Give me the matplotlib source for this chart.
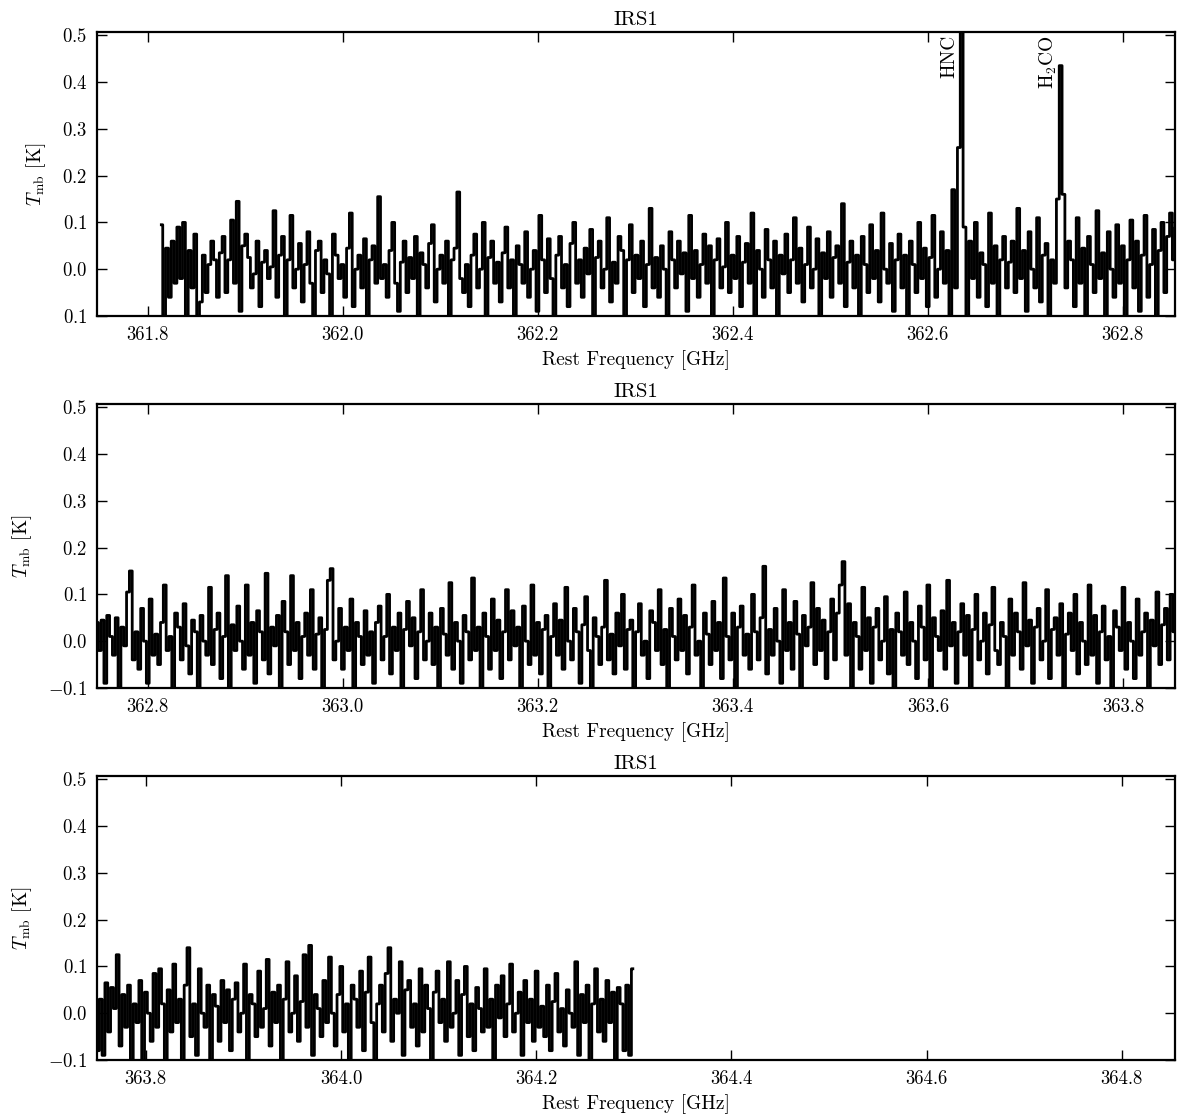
import numpy as np
import matplotlib
matplotlib.use("Agg")
import matplotlib.pyplot as plt
from matplotlib.ticker import FuncFormatter

plt.rcParams['font.family'] = 'cmr10'
plt.rcParams['mathtext.fontset'] = 'cm'
plt.rcParams['axes.unicode_minus'] = False

# channel grid of each spectrum (GHz)
f1_start, f2_start, f3_start = 361.814, 362.745, 363.748
chan_width = 0.0029

# main-beam temperature per channel, in mK
tmb1_mK = [
    95, -110, 45, -60, 60, -30, 90, -20, 100, -120, 40, -40, 75, -130, -70, 30, -50, 10, 60, 20,
    -60, 35, 70, -50, 20, 105, -30, 145, -90, 50, 75, 25, -40, -10, 60, -80, 15, 40, -20, 5,
    125, -60, 30, 70, -100, 20, 115, -40, 0, 55, -70, 10, 80, -30, -120, 40, 60, -50, 20, -10,
    -130, 75, 30, -20, 10, -60, 45, 120, -80, 0, 30, -40, 65, -110, 20, 50, -30, 155, -20, 10,
    -60, 40, 100, -30, -90, 15, 60, -50, 25, -20, 70, -100, 35, 10, -40, 55, 95, -70, 0, 30,
    -30, 60, -110, 20, 45, 165, -20, -50, 10, -80, 30, 75, -40, 0, 100, -130, 25, 60, -30, 15,
    -70, 35, 90, -40, 20, -100, 50, 10, -30, 80, -60, 0, 40, -90, 115, 20, -50, 65, -20, -120,
    30, 70, -40, 10, -80, 55, 100, -30, 20, -60, 45, -10, 85, -100, 25, 60, -40, 0, 110, -70,
    15, -30, 70, 40, -120, 20, 95, -50, 30, -20, 60, -80, 10, 130, -40, 25, -60, 50, 0, -100,
    80, 20, -40, 60, -10, 35, -90, 115, -20, 40, -60, 10, 75, -30, 50, -110, 20, 65, -40, 5,
    100, -50, 30, -20, 70, -80, 15, 55, -30, 120, -100, 40, 0, -60, 85, 20, -40, 60, -120, 30,
    -10, 75, -50, 20, 110, -30, 45, -70, 10, 90, -40, 0, 65, -130, 35, -20, 80, -60, 25, 50,
    -30, 140, -80, 15, 60, -40, 30, -100, 70, 10, -50, 95, -20, 40, -70, 120, 0, -30, 55, -90,
    20, 75, -40, 30, -110, 60, 10, -50, 100, -20, 45, -80, 25, 115, -60, 0, 80, -30, 40, -100,
    170, -40, 260, 600, 90, -110, 60, -20, 100, -60, 35, 10, -80, 120, -30, 50, -100, 20, 70, -40,
    15, 60, -50, 130, -20, 40, -90, 80, 0, -40, 110, -70, 30, 55, -120, 20, -30, 150, 435, 160,
    -40, 60, 20, -80, 110, -30, 45, -100, 70, 10, -50, 125, -20, 35, -110, 80, 0, -60, 95, -30,
    50, -120, 20, 105, -40, 60, -90, 30, 115, -60, 10, 85, -130, 40, 100, -50, 70, 120, 20, 90,
]

tmb2_mK = [
    60, 40, -20, 45, -90, 55, 10, -30, 50, -100, 30, -10, 105, 150, -40, 20, -60, 70, 0, -90,
    90, -30, 15, -50, 40, 120, -20, 10, -110, 60, 30, -40, 80, -10, -70, 45, 20, -100, 55, 0,
    -30, 115, -50, 25, 60, -80, 10, 140, -120, 35, -20, 75, 0, -60, 120, -30, 40, -90, 65, 20,
    -40, 145, -70, 30, -10, 55, -110, 85, 20, -50, 140, -20, 40, -80, 10, 60, -30, 110, -60, 15,
    50, -100, 25, 130, 155, -40, 0, 70, -60, 30, -20, 90, -110, 40, 10, -50, 65, -30, 20, -90,
    40, 75, -40, 10, 100, -70, 30, -20, 60, -120, 25, 85, -10, 50, -80, 20, 110, -40, 0, 60,
    -50, 30, -100, 70, 15, -30, 125, -60, 40, 0, -90, 55, 20, -40, 135, -20, 30, -110, 60, 10,
    -60, 90, -20, 45, -80, 20, 110, -40, 65, -10, 30, -100, 75, 0, -50, 120, -30, 40, -70, 25,
    55, -120, 10, 80, -30, 45, -60, 115, 0, -40, 70, 20, -90, 35, 95, -20, -110, 50, 10, -50,
    30, 130, -40, 15, -70, 60, -10, 100, -60, 25, 45, -100, 20, 80, -30, 0, -80, 65, 40, -20,
    110, -50, 25, -100, 70, 10, -40, 90, -20, 55, -70, 30, 120, -30, 0, -110, 60, 15, -50, 85,
    -20, 40, -80, 135, 10, -40, 60, -100, 30, 75, -30, 15, -60, 100, 20, -40, 50, 160, -70, 25,
    -30, 70, 0, -90, 110, -20, 40, -60, 85, 15, -110, 55, -10, 30, 125, -50, 70, -20, 45, -80,
    20, 90, -40, 60, 120, 170, -30, 80, -100, 40, 10, -60, 115, -20, 50, -90, 30, 70, -40, 0,
    95, -70, 25, -120, 60, 20, -30, 105, -50, 40, 0, -80, 75, 30, -40, 120, -100, 50, 10, -20,
    65, -60, 130, -10, 40, -90, 20, 80, -30, 55, -110, 25, 100, -40, 0, 60, -70, 35, 115, -20,
    -50, 40, 10, -100, 90, -30, 60, 20, -60, 125, -10, 45, -90, 30, 70, -40, 0, 110, -80, 25,
    50, -30, 80, -110, 15, 60, -20, 100, -70, 40, 0, -50, 120, -30, 55, -90, 20, 75, -40, 10,
    -100, 65, 30, -20, 115, -60, 40, 0, -80, 90, -30, 20, 60, -120, 45, -10, 105, -50, 35, 70,
    -40, 100, 20, 60,
]

tmb3_mK = [
    40, -80, 30, -90, 65, -40, 55, 10, 125, -70, 40, -30, 60, -100, 20, -20, 70, -120, 45, 0,
    -60, 85, -30, 95, 20, -110, 50, -40, 105, -20, 30, -120, 60, 140, -50, 20, -90, 95, 0, -30,
    60, -100, 40, 15, -60, 70, -20, 50, -80, 30, 65, -40, 0, 105, -110, 40, 20, -50, 90, -30,
    10, 115, -70, 45, -20, 60, -100, 30, 110, -40, 0, 80, -60, 25, 125, -30, 145, -90, 40, 10,
    -50, 70, -20, 120, 0, -70, 40, 100, -40, 20, -110, 60, 30, -30, 90, -80, 45, 120, -20, -110,
    20, 60, -40, 85, 140, -60, 30, 0, 110, -90, 50, 70, -30, 20, -70, 95, -40, 60, 10, -100,
    45, 90, -20, 30, -60, 110, -30, 0, 70, -90, 40, 100, -50, 20, -80, 55, 10, -40, 95, -30,
    30, -100, 60, -10, 80, -50, 20, 105, -40, 0, 45, -90, 70, -20, 30, -60, 90, -30, 15, -50,
    60, -80, 25, 85, -40, 10, -70, 50, 0, -30, 110, -90, 40, -20, 60, -110, 20, 95, -40, 30,
    -60, 70, -20, 45, -100, 55, 20, -80, 60, -90, 95,
]

x_ranges = [(361.748, 362.853), (362.748, 363.853), (363.750, 364.854)]
x_ticks = [[361.8, 362.0, 362.2, 362.4, 362.6, 362.8],
           [362.8, 363.0, 363.2, 363.4, 363.6, 363.8],
           [363.8, 364.0, 364.2, 364.4, 364.6, 364.8]]
y_ticks = [-0.1, 0.0, 0.1, 0.2, 0.3, 0.4, 0.5]

# line identifications in the first window
line_names = ["HNC", "H$_2$CO"]
line_freqs = [362.631, 362.735]


def spectrum(start, values_mK):
    t = np.array(values_mK) / 1000.0
    f = start + chan_width * np.arange(len(t))
    return f, t


def y_fmt(v, pos):
    return "$%.1f$" % v


fig = plt.figure(figsize=(12, 11.17), dpi=100)
bottoms = [0.7171, 0.3841, 0.0510]
spectra = [spectrum(f1_start, tmb1_mK),
           spectrum(f2_start, tmb2_mK),
           spectrum(f3_start, tmb3_mK)]

for i in range(3):
    ax = fig.add_axes([0.0808, bottoms[i], 0.898, 0.2543])
    f, t = spectra[i]
    ax.plot(f, t, color='black', lw=2.0, drawstyle='steps-mid', snap=False)
    ax.set_xlim(*x_ranges[i])
    ax.set_ylim(-0.1, 0.507)
    ax.set_xticks(x_ticks[i])
    ax.set_yticks(y_ticks)
    ax.xaxis.set_major_formatter(FuncFormatter(lambda v, p: "%.1f" % v))
    ax.yaxis.set_major_formatter(FuncFormatter(y_fmt))
    if i == 0:
        # the first panel lost its minus sign on the lowest label
        ax.set_yticklabels(["$0.1$", "$0.0$", "$0.1$", "$0.2$", "$0.3$", "$0.4$", "$0.5$"])
    ax.tick_params(direction='in', top=True, right=True, length=7, width=1,
                   labelsize=13.5, pad=7)
    for s in ax.spines.values():
        s.set_linewidth(1.6)
    ax.set_title("IRS1", fontsize=15, pad=5)
    ax.set_xlabel("Rest Frequency [GHz]", fontsize=14, labelpad=5)
    ax.set_ylabel(r"$T_{\rm mb}$ [K]", fontsize=14, labelpad=10)
    if i == 0:
        for name, nu in zip(line_names, line_freqs):
            ax.text(nu, 0.50, name, rotation=90, ha='right', va='top', fontsize=14)

fig.savefig("out.png", dpi=100)
